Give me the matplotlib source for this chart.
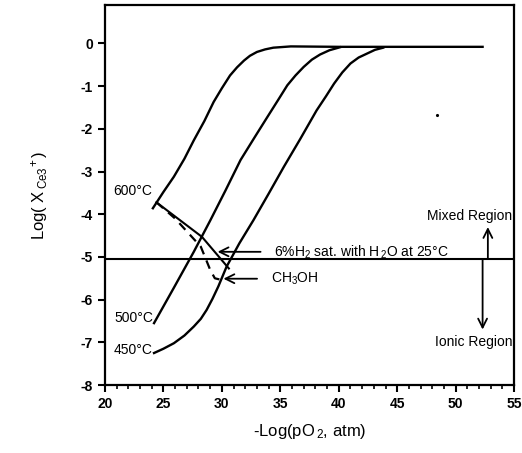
import matplotlib
matplotlib.use("Agg")
import matplotlib.pyplot as plt
from matplotlib.ticker import MultipleLocator

plt.rcParams['font.family'] = ['Liberation Sans', 'DejaVu Sans']
plt.rcParams['axes.unicode_minus'] = False
plt.rcParams['mathtext.default'] = 'regular'

# curves: x = -log(pO2, atm), y = log(X_Ce3+)
x600 = [24.1, 25.0, 25.9, 26.8, 27.6, 28.5, 29.3, 30.0, 30.7, 31.3, 31.9, 32.4,
        33.0, 33.7, 34.4, 35.9, 40.0, 45.0, 52.3]
y600 = [-3.86, -3.48, -3.12, -2.70, -2.27, -1.82, -1.37, -1.05, -0.75, -0.56, -0.40, -0.29,
        -0.20, -0.14, -0.10, -0.07, -0.08, -0.08, -0.08]

x500 = [24.2, 25.9, 27.6, 29.0, 30.3, 31.6, 32.8, 33.9, 34.8, 35.6, 36.3, 37.0,
        37.7, 38.4, 39.2, 40.1]
y500 = [-6.55, -5.72, -4.88, -4.15, -3.45, -2.73, -2.20, -1.72, -1.33, -0.98, -0.75, -0.55,
        -0.38, -0.26, -0.16, -0.09]

x450 = [24.2, 25.0, 25.9, 26.8, 27.6, 28.2, 28.7, 29.2, 29.7, 30.4, 31.5, 32.7,
        34.0, 35.3, 36.7, 38.1, 38.9, 39.6, 40.3, 41.0, 41.7, 42.4, 43.1, 43.8]
y450 = [-7.25, -7.15, -7.02, -6.84, -6.63, -6.45, -6.24, -5.98, -5.69, -5.23, -4.68, -4.14,
        -3.52, -2.89, -2.24, -1.57, -1.24, -0.94, -0.68, -0.47, -0.33, -0.24, -0.15, -0.10]

# 6% H2 (solid) and CH3OH (dashed) tie lines
x_h2 = [24.4, 28.3, 30.6]
y_h2 = [-3.72, -4.53, -5.27]
x_meoh = [24.4, 26.0, 28.2, 29.0, 29.4, 30.0]
y_meoh = [-3.72, -4.10, -4.76, -5.30, -5.50, -5.54]

boundary = -5.05

fig = plt.figure(figsize=(5.22, 4.53), dpi=100)
ax = fig.add_axes([0.201, 0.150, 0.784, 0.839])

for xs, ys in [(x600, y600), (x500, y500), (x450, y450)]:
    ax.plot(xs, ys, color='black', lw=1.7, solid_joinstyle='round')
ax.plot(x_h2, y_h2, color='black', lw=1.5)
ax.plot(x_meoh, y_meoh, color='black', lw=1.6, ls=(0, (4, 3)))
ax.axhline(boundary, color='black', lw=1.5)
ax.plot([48.4], [-1.68], 'k.', ms=2.5)

tfont = dict(fontsize=10, color='black')
ax.text(24.0, -3.45, '600°C', ha='right', va='center', **tfont)
ax.text(24.1, -6.42, '500°C', ha='right', va='center', **tfont)
ax.text(24.1, -7.18, '450°C', ha='right', va='center', **tfont)

arrow = dict(arrowstyle='->', lw=1.3, color='black', mutation_scale=16, shrinkA=8)
ax.annotate('6%H$_2$ sat. with H$_{\\,2}$O at 25°C', xy=(29.4, -4.88), xytext=(34.5, -4.88),
            ha='left', va='center', fontsize=10, arrowprops=arrow)
ax.annotate('CH$_3$OH', xy=(29.9, -5.51), xytext=(34.2, -5.51),
            ha='left', va='center', fontsize=10, arrowprops=arrow)

vert = dict(arrowstyle='->', lw=1.3, color='black', mutation_scale=16, shrinkA=0, shrinkB=0)
ax.annotate('', xy=(52.75, -4.3), xytext=(52.75, boundary), arrowprops=vert)
ax.annotate('', xy=(52.3, -6.7), xytext=(52.3, boundary), arrowprops=vert)
ax.text(54.85, -4.03, 'Mixed Region', ha='right', va='center', **tfont)
ax.text(54.85, -7.0, 'Ionic Region', ha='right', va='center', **tfont)

ax.set_xlim(20, 55)
ax.set_ylim(-8, 0.9)
ax.xaxis.set_major_locator(MultipleLocator(5))
ax.xaxis.set_minor_locator(MultipleLocator(1))
ax.yaxis.set_major_locator(MultipleLocator(1))
ax.tick_params(axis='both', which='major', direction='out', length=5, width=1.5,
               labelsize=10, top=False, right=False)
ax.tick_params(axis='x', which='minor', direction='out', length=3, width=1.2, top=False)
for lab in ax.get_xticklabels() + ax.get_yticklabels():
    lab.set_fontweight('bold')
for s in ax.spines.values():
    s.set_linewidth(1.6)

ax.set_xlabel('-Log(pO$_{\\,2}$, atm)', fontsize=12, labelpad=8)
ax.set_ylabel('Log( X$_{\\,Ce3}$$^{\\!+}$)', fontsize=12, labelpad=22)

fig.savefig('out.png', dpi=100)
